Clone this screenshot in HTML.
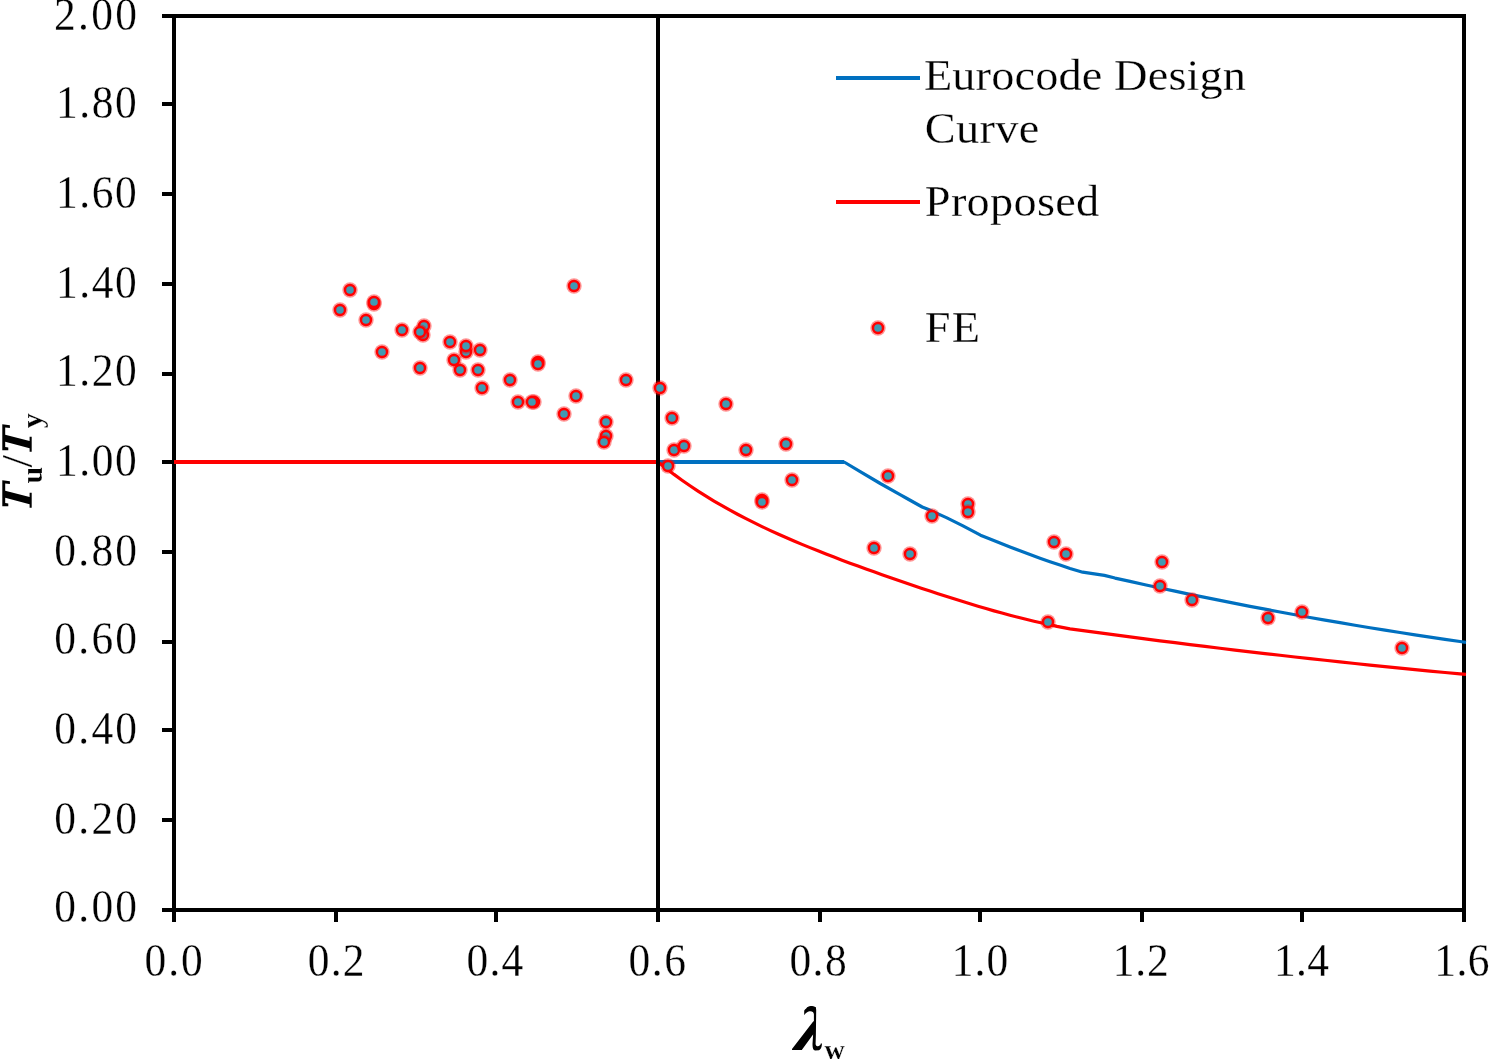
<!DOCTYPE html>
<html><head><meta charset="utf-8"><title>chart</title>
<style>
html,body{margin:0;padding:0;background:#fff;}
body{width:1490px;height:1060px;overflow:hidden;font-family:"Liberation Serif",serif;}
svg{display:block;}
text{font-family:"Liberation Serif",serif;fill:#000;}
</style></head><body>
<svg width="1490" height="1060" viewBox="0 0 1490 1060">
<rect width="1490" height="1060" fill="#fff"/>

<g fill="#000" shape-rendering="crispEdges">
<rect x="162" y="14" width="1304" height="4"/>
<rect x="172" y="14" width="4" height="908"/>
<rect x="1462" y="14" width="4" height="908"/>
<rect x="162" y="908" width="1304" height="4"/>
<rect x="162" y="14" width="12" height="4"/>
<rect x="162" y="102" width="12" height="4"/>
<rect x="162" y="192" width="12" height="4"/>
<rect x="162" y="282" width="12" height="4"/>
<rect x="162" y="372" width="12" height="4"/>
<rect x="162" y="460" width="12" height="4"/>
<rect x="162" y="550" width="12" height="4"/>
<rect x="162" y="640" width="12" height="4"/>
<rect x="162" y="728" width="12" height="4"/>
<rect x="162" y="818" width="12" height="4"/>
<rect x="162" y="908" width="12" height="4"/>
<rect x="172" y="908" width="4" height="14"/>
<rect x="334" y="908" width="4" height="14"/>
<rect x="494" y="908" width="4" height="14"/>
<rect x="656" y="908" width="4" height="14"/>
<rect x="818" y="908" width="4" height="14"/>
<rect x="978" y="908" width="4" height="14"/>
<rect x="1140" y="908" width="4" height="14"/>
<rect x="1300" y="908" width="4" height="14"/>
<rect x="1462" y="908" width="4" height="14"/>
</g>
<rect x="174" y="460" width="486" height="4" fill="#ff0000" shape-rendering="crispEdges"/>
<rect x="658" y="460" width="186" height="4" fill="#0070c0" shape-rendering="crispEdges"/>
<polyline points="658,462 666,468.33 674,474.41 682,480.21 690,485.76 698,491.06 706,496.15 714,501.02 722,505.69 730,510.18 738,514.5 746,518.67 754,522.69 762,526.57 770,530.34 778,533.99 786,537.53 794,540.98 802,544.35 810,547.64 818,550.85 826,554.01 834,557.1 842,560.14 850,563.13 858,566.08 866,568.99 874,571.86 882,574.7 890,577.51 898,580.28 906,583.02 914,585.74 922,588.42 930,591.07 938,593.69 946,596.28 954,598.82 962,601.33 970,603.79 978,606.2 986,608.56 994,610.85 1002,613.08 1010,615.24 1018,617.31 1026,619.3 1034,621.19 1042,622.98 1050,624.64 1057,626.4 1070,628.85 1085,630.91 1100,632.94 1115,634.95 1130,636.92 1145,638.88 1160,640.8 1175,642.7 1190,644.58 1205,646.43 1220,648.25 1235,650.05 1250,651.82 1265,653.56 1280,655.28 1295,656.97 1310,658.64 1325,660.28 1340,661.9 1355,663.48 1370,665.05 1385,666.58 1400,668.09 1415,669.58 1430,671.04 1445,672.47 1460,673.88 1466,674.43" fill="none" stroke="#ff0000" stroke-width="3.2" stroke-linejoin="round"/>
<polyline points="842,462 844.1,462 860.2,471.6 880.3,483.5 900.5,494.8 906.1,498 922.2,507 927.9,509.3 946.4,517.6 962.5,525.6 980.5,535.2 990,538.95 1000,543.01 1010,546.97 1020,550.81 1030,554.55 1040,558.18 1050,561.7 1060,565.11 1070,568.41 1082.7,572.2 1104.4,575.4 1115,578.07 1130,581.42 1145,584.73 1160,587.98 1175,591.17 1190,594.31 1205,597.4 1220,600.43 1235,603.4 1250,606.32 1265,609.19 1280,612 1295,614.75 1310,617.46 1325,620.1 1340,622.69 1355,625.23 1370,627.71 1385,630.14 1400,632.51 1415,634.83 1430,637.1 1445,639.31 1460,641.46 1466,642.31" fill="none" stroke="#0070c0" stroke-width="3.2" stroke-linejoin="round"/>
<rect x="656" y="16" width="4" height="894" fill="#000" shape-rendering="crispEdges"/>
<g>
<circle cx="350" cy="290" r="7.7" fill="#ff0000" fill-opacity="0.42" stroke="none"/><circle cx="350" cy="290" r="5.0" fill="#409ab2" stroke="#ff0000" stroke-width="2.4"/>
<circle cx="340" cy="310" r="7.7" fill="#ff0000" fill-opacity="0.42" stroke="none"/><circle cx="340" cy="310" r="5.0" fill="#409ab2" stroke="#ff0000" stroke-width="2.4"/>
<circle cx="374" cy="304" r="7.7" fill="#ff0000" fill-opacity="0.42" stroke="none"/><circle cx="374" cy="304" r="5.0" fill="#409ab2" stroke="#ff0000" stroke-width="2.4"/>
<circle cx="374" cy="302" r="7.7" fill="#ff0000" fill-opacity="0.42" stroke="none"/><circle cx="374" cy="302" r="5.0" fill="#409ab2" stroke="#ff0000" stroke-width="2.4"/>
<circle cx="366" cy="320" r="7.7" fill="#ff0000" fill-opacity="0.42" stroke="none"/><circle cx="366" cy="320" r="5.0" fill="#409ab2" stroke="#ff0000" stroke-width="2.4"/>
<circle cx="402" cy="330" r="7.7" fill="#ff0000" fill-opacity="0.42" stroke="none"/><circle cx="402" cy="330" r="5.0" fill="#409ab2" stroke="#ff0000" stroke-width="2.4"/>
<circle cx="423" cy="335" r="7.7" fill="#ff0000" fill-opacity="0.42" stroke="none"/><circle cx="423" cy="335" r="5.0" fill="#409ab2" stroke="#ff0000" stroke-width="2.4"/>
<circle cx="424" cy="326" r="7.7" fill="#ff0000" fill-opacity="0.42" stroke="none"/><circle cx="424" cy="326" r="5.0" fill="#409ab2" stroke="#ff0000" stroke-width="2.4"/>
<circle cx="420" cy="332" r="7.7" fill="#ff0000" fill-opacity="0.42" stroke="none"/><circle cx="420" cy="332" r="5.0" fill="#409ab2" stroke="#ff0000" stroke-width="2.4"/>
<circle cx="382" cy="352" r="7.7" fill="#ff0000" fill-opacity="0.42" stroke="none"/><circle cx="382" cy="352" r="5.0" fill="#409ab2" stroke="#ff0000" stroke-width="2.4"/>
<circle cx="420" cy="368" r="7.7" fill="#ff0000" fill-opacity="0.42" stroke="none"/><circle cx="420" cy="368" r="5.0" fill="#409ab2" stroke="#ff0000" stroke-width="2.4"/>
<circle cx="450" cy="342" r="7.7" fill="#ff0000" fill-opacity="0.42" stroke="none"/><circle cx="450" cy="342" r="5.0" fill="#409ab2" stroke="#ff0000" stroke-width="2.4"/>
<circle cx="466" cy="352" r="7.7" fill="#ff0000" fill-opacity="0.42" stroke="none"/><circle cx="466" cy="352" r="5.0" fill="#409ab2" stroke="#ff0000" stroke-width="2.4"/>
<circle cx="466" cy="346" r="7.7" fill="#ff0000" fill-opacity="0.42" stroke="none"/><circle cx="466" cy="346" r="5.0" fill="#409ab2" stroke="#ff0000" stroke-width="2.4"/>
<circle cx="480" cy="350" r="7.7" fill="#ff0000" fill-opacity="0.42" stroke="none"/><circle cx="480" cy="350" r="5.0" fill="#409ab2" stroke="#ff0000" stroke-width="2.4"/>
<circle cx="454" cy="360" r="7.7" fill="#ff0000" fill-opacity="0.42" stroke="none"/><circle cx="454" cy="360" r="5.0" fill="#409ab2" stroke="#ff0000" stroke-width="2.4"/>
<circle cx="460" cy="370" r="7.7" fill="#ff0000" fill-opacity="0.42" stroke="none"/><circle cx="460" cy="370" r="5.0" fill="#409ab2" stroke="#ff0000" stroke-width="2.4"/>
<circle cx="478" cy="370" r="7.7" fill="#ff0000" fill-opacity="0.42" stroke="none"/><circle cx="478" cy="370" r="5.0" fill="#409ab2" stroke="#ff0000" stroke-width="2.4"/>
<circle cx="510" cy="380" r="7.7" fill="#ff0000" fill-opacity="0.42" stroke="none"/><circle cx="510" cy="380" r="5.0" fill="#409ab2" stroke="#ff0000" stroke-width="2.4"/>
<circle cx="482" cy="388" r="7.7" fill="#ff0000" fill-opacity="0.42" stroke="none"/><circle cx="482" cy="388" r="5.0" fill="#409ab2" stroke="#ff0000" stroke-width="2.4"/>
<circle cx="518" cy="402" r="7.7" fill="#ff0000" fill-opacity="0.42" stroke="none"/><circle cx="518" cy="402" r="5.0" fill="#409ab2" stroke="#ff0000" stroke-width="2.4"/>
<circle cx="534" cy="402" r="7.7" fill="#ff0000" fill-opacity="0.42" stroke="none"/><circle cx="534" cy="402" r="5.0" fill="#409ab2" stroke="#ff0000" stroke-width="2.4"/>
<circle cx="532" cy="402" r="7.7" fill="#ff0000" fill-opacity="0.42" stroke="none"/><circle cx="532" cy="402" r="5.0" fill="#409ab2" stroke="#ff0000" stroke-width="2.4"/>
<circle cx="538" cy="362" r="7.7" fill="#ff0000" fill-opacity="0.42" stroke="none"/><circle cx="538" cy="362" r="5.0" fill="#409ab2" stroke="#ff0000" stroke-width="2.4"/>
<circle cx="538" cy="364" r="7.7" fill="#ff0000" fill-opacity="0.42" stroke="none"/><circle cx="538" cy="364" r="5.0" fill="#409ab2" stroke="#ff0000" stroke-width="2.4"/>
<circle cx="564" cy="414" r="7.7" fill="#ff0000" fill-opacity="0.42" stroke="none"/><circle cx="564" cy="414" r="5.0" fill="#409ab2" stroke="#ff0000" stroke-width="2.4"/>
<circle cx="574" cy="286" r="7.7" fill="#ff0000" fill-opacity="0.42" stroke="none"/><circle cx="574" cy="286" r="5.0" fill="#409ab2" stroke="#ff0000" stroke-width="2.4"/>
<circle cx="576" cy="396" r="7.7" fill="#ff0000" fill-opacity="0.42" stroke="none"/><circle cx="576" cy="396" r="5.0" fill="#409ab2" stroke="#ff0000" stroke-width="2.4"/>
<circle cx="606" cy="436" r="7.7" fill="#ff0000" fill-opacity="0.42" stroke="none"/><circle cx="606" cy="436" r="5.0" fill="#409ab2" stroke="#ff0000" stroke-width="2.4"/>
<circle cx="604" cy="442" r="7.7" fill="#ff0000" fill-opacity="0.42" stroke="none"/><circle cx="604" cy="442" r="5.0" fill="#409ab2" stroke="#ff0000" stroke-width="2.4"/>
<circle cx="606" cy="422" r="7.7" fill="#ff0000" fill-opacity="0.42" stroke="none"/><circle cx="606" cy="422" r="5.0" fill="#409ab2" stroke="#ff0000" stroke-width="2.4"/>
<circle cx="626" cy="380" r="7.7" fill="#ff0000" fill-opacity="0.42" stroke="none"/><circle cx="626" cy="380" r="5.0" fill="#409ab2" stroke="#ff0000" stroke-width="2.4"/>
<circle cx="660" cy="388" r="7.7" fill="#ff0000" fill-opacity="0.42" stroke="none"/><circle cx="660" cy="388" r="5.0" fill="#409ab2" stroke="#ff0000" stroke-width="2.4"/>
<circle cx="668" cy="466" r="7.7" fill="#ff0000" fill-opacity="0.42" stroke="none"/><circle cx="668" cy="466" r="5.0" fill="#409ab2" stroke="#ff0000" stroke-width="2.4"/>
<circle cx="672" cy="418" r="7.7" fill="#ff0000" fill-opacity="0.42" stroke="none"/><circle cx="672" cy="418" r="5.0" fill="#409ab2" stroke="#ff0000" stroke-width="2.4"/>
<circle cx="674" cy="450" r="7.7" fill="#ff0000" fill-opacity="0.42" stroke="none"/><circle cx="674" cy="450" r="5.0" fill="#409ab2" stroke="#ff0000" stroke-width="2.4"/>
<circle cx="684" cy="446" r="7.7" fill="#ff0000" fill-opacity="0.42" stroke="none"/><circle cx="684" cy="446" r="5.0" fill="#409ab2" stroke="#ff0000" stroke-width="2.4"/>
<circle cx="726" cy="404" r="7.7" fill="#ff0000" fill-opacity="0.42" stroke="none"/><circle cx="726" cy="404" r="5.0" fill="#409ab2" stroke="#ff0000" stroke-width="2.4"/>
<circle cx="746" cy="450" r="7.7" fill="#ff0000" fill-opacity="0.42" stroke="none"/><circle cx="746" cy="450" r="5.0" fill="#409ab2" stroke="#ff0000" stroke-width="2.4"/>
<circle cx="786" cy="444" r="7.7" fill="#ff0000" fill-opacity="0.42" stroke="none"/><circle cx="786" cy="444" r="5.0" fill="#409ab2" stroke="#ff0000" stroke-width="2.4"/>
<circle cx="762" cy="500" r="7.7" fill="#ff0000" fill-opacity="0.42" stroke="none"/><circle cx="762" cy="500" r="5.0" fill="#409ab2" stroke="#ff0000" stroke-width="2.4"/>
<circle cx="762" cy="502" r="7.7" fill="#ff0000" fill-opacity="0.42" stroke="none"/><circle cx="762" cy="502" r="5.0" fill="#409ab2" stroke="#ff0000" stroke-width="2.4"/>
<circle cx="792" cy="480" r="7.7" fill="#ff0000" fill-opacity="0.42" stroke="none"/><circle cx="792" cy="480" r="5.0" fill="#409ab2" stroke="#ff0000" stroke-width="2.4"/>
<circle cx="874" cy="548" r="7.7" fill="#ff0000" fill-opacity="0.42" stroke="none"/><circle cx="874" cy="548" r="5.0" fill="#409ab2" stroke="#ff0000" stroke-width="2.4"/>
<circle cx="910" cy="554" r="7.7" fill="#ff0000" fill-opacity="0.42" stroke="none"/><circle cx="910" cy="554" r="5.0" fill="#409ab2" stroke="#ff0000" stroke-width="2.4"/>
<circle cx="888" cy="476" r="7.7" fill="#ff0000" fill-opacity="0.42" stroke="none"/><circle cx="888" cy="476" r="5.0" fill="#409ab2" stroke="#ff0000" stroke-width="2.4"/>
<circle cx="932" cy="516" r="7.7" fill="#ff0000" fill-opacity="0.42" stroke="none"/><circle cx="932" cy="516" r="5.0" fill="#409ab2" stroke="#ff0000" stroke-width="2.4"/>
<circle cx="968" cy="504" r="7.7" fill="#ff0000" fill-opacity="0.42" stroke="none"/><circle cx="968" cy="504" r="5.0" fill="#409ab2" stroke="#ff0000" stroke-width="2.4"/>
<circle cx="968" cy="512" r="7.7" fill="#ff0000" fill-opacity="0.42" stroke="none"/><circle cx="968" cy="512" r="5.0" fill="#409ab2" stroke="#ff0000" stroke-width="2.4"/>
<circle cx="1048" cy="622" r="7.7" fill="#ff0000" fill-opacity="0.42" stroke="none"/><circle cx="1048" cy="622" r="5.0" fill="#409ab2" stroke="#ff0000" stroke-width="2.4"/>
<circle cx="1054" cy="542" r="7.7" fill="#ff0000" fill-opacity="0.42" stroke="none"/><circle cx="1054" cy="542" r="5.0" fill="#409ab2" stroke="#ff0000" stroke-width="2.4"/>
<circle cx="1066" cy="554" r="7.7" fill="#ff0000" fill-opacity="0.42" stroke="none"/><circle cx="1066" cy="554" r="5.0" fill="#409ab2" stroke="#ff0000" stroke-width="2.4"/>
<circle cx="1162" cy="562" r="7.7" fill="#ff0000" fill-opacity="0.42" stroke="none"/><circle cx="1162" cy="562" r="5.0" fill="#409ab2" stroke="#ff0000" stroke-width="2.4"/>
<circle cx="1160" cy="586" r="7.7" fill="#ff0000" fill-opacity="0.42" stroke="none"/><circle cx="1160" cy="586" r="5.0" fill="#409ab2" stroke="#ff0000" stroke-width="2.4"/>
<circle cx="1192" cy="600" r="7.7" fill="#ff0000" fill-opacity="0.42" stroke="none"/><circle cx="1192" cy="600" r="5.0" fill="#409ab2" stroke="#ff0000" stroke-width="2.4"/>
<circle cx="1268" cy="618" r="7.7" fill="#ff0000" fill-opacity="0.42" stroke="none"/><circle cx="1268" cy="618" r="5.0" fill="#409ab2" stroke="#ff0000" stroke-width="2.4"/>
<circle cx="1302" cy="612" r="7.7" fill="#ff0000" fill-opacity="0.42" stroke="none"/><circle cx="1302" cy="612" r="5.0" fill="#409ab2" stroke="#ff0000" stroke-width="2.4"/>
<circle cx="1402" cy="648" r="7.7" fill="#ff0000" fill-opacity="0.42" stroke="none"/><circle cx="1402" cy="648" r="5.0" fill="#409ab2" stroke="#ff0000" stroke-width="2.4"/>
<circle cx="878" cy="328" r="7.7" fill="#ff0000" fill-opacity="0.42" stroke="none"/><circle cx="878" cy="328" r="5.0" fill="#409ab2" stroke="#ff0000" stroke-width="2.4"/>
</g>
<rect x="836" y="76" width="84" height="4" fill="#0070c0"/>
<rect x="836" y="200" width="84" height="4" fill="#ff0000"/>
<g opacity="0.999" stroke="#ffffff" stroke-width="0.25">
<text transform="translate(923.88,89.5) scale(1.03,1)" font-size="45" letter-spacing="0.124">Eurocode Design</text>
<text transform="translate(924.73,143.4) scale(1.03,1)" font-size="45" letter-spacing="0.359">Curve</text>
<text transform="translate(924.85,216.3) scale(1.03,1)" font-size="45" letter-spacing="0.275">Proposed</text>
<text transform="translate(924.85,342.1) scale(1.03,1)" font-size="45" letter-spacing="1.117">FE</text>
<text transform="translate(53.98,30) scale(0.945,1)" font-size="46" letter-spacing="2.478">2.00</text>
<text transform="translate(56.02,118) scale(0.945,1)" font-size="46" letter-spacing="1.654">1.80</text>
<text transform="translate(56.02,208) scale(0.945,1)" font-size="46" letter-spacing="1.654">1.60</text>
<text transform="translate(56.02,298) scale(0.945,1)" font-size="46" letter-spacing="1.654">1.40</text>
<text transform="translate(56.02,386) scale(0.945,1)" font-size="46" letter-spacing="1.654">1.20</text>
<text transform="translate(56.02,476) scale(0.945,1)" font-size="46" letter-spacing="1.654">1.00</text>
<text transform="translate(54.36,566) scale(0.945,1)" font-size="46" letter-spacing="2.345">0.80</text>
<text transform="translate(54.36,654) scale(0.945,1)" font-size="46" letter-spacing="2.345">0.60</text>
<text transform="translate(54.36,744) scale(0.945,1)" font-size="46" letter-spacing="2.345">0.40</text>
<text transform="translate(54.36,834) scale(0.945,1)" font-size="46" letter-spacing="2.345">0.20</text>
<text transform="translate(54.36,922) scale(0.945,1)" font-size="46" letter-spacing="2.345">0.00</text>
<text transform="translate(144.44,976) scale(0.945,1)" font-size="46" letter-spacing="2.119">0.0</text>
<text transform="translate(307.78,976) scale(0.945,1)" font-size="46" letter-spacing="1.278">0.2</text>
<text transform="translate(466.56,976) scale(0.945,1)" font-size="46" letter-spacing="1.184">0.4</text>
<text transform="translate(628.38,976) scale(0.945,1)" font-size="46" letter-spacing="1.723">0.6</text>
<text transform="translate(789.44,976) scale(0.945,1)" font-size="46" letter-spacing="1.505">0.8</text>
<text transform="translate(951.82,976) scale(0.945,1)" font-size="46" letter-spacing="1.052">1.0</text>
<text transform="translate(1112.66,976) scale(0.945,1)" font-size="46" letter-spacing="0.865">1.2</text>
<text transform="translate(1273.94,976) scale(0.945,1)" font-size="46" letter-spacing="0.433">1.4</text>
<text transform="translate(1434.24,976) scale(0.945,1)" font-size="46" letter-spacing="0.433">1.6</text>
<path d="M815.9 1007.3 C814.5 1006.3 812.5 1006 810.7 1006 C808.8 1006 807.3 1007 806.4 1008.2 C805.3 1009.2 804.5 1010 804.2 1010.6 L804.2 1015.2 C804.8 1014 805.6 1013.2 806.4 1012.8 C807.5 1011.8 808.5 1011.3 809.4 1011.2 C811 1011 812.3 1011.4 813.1 1012.2 C813.7 1013 813.9 1013.8 813.9 1014.6 L813.9 1021 L812.8 1022 L792 1049 L792 1049.9 L801.8 1049.9 L813.6 1033.7 L813.1 1034.4 L812.5 1044 C812.5 1045.5 812.6 1046.8 812.8 1047.7 C813.2 1049.5 814 1050.5 815.2 1050.5 L819 1050.3 C820.5 1049.5 821.4 1047.5 821.7 1045.9 L822 1043.4 L820.8 1043.4 C820.6 1044.3 820.3 1044.9 819.9 1045.3 C819.2 1046 818.3 1046.3 817.4 1046.2 C816.3 1046 815.7 1045.2 815.6 1044 L815.9 1034.2 L816.2 1010.3 Z" fill="#000" stroke="none"/>
<text x="824.5" y="1059.3" font-size="28" font-weight="bold">w</text>
<path d="M2.3 480.2 L9.9 481.3 L9.9 483.9 L5.2 483.4 L5.2 490.7 L29.6 496.9 L29.6 492.7 L31.7 492.7 L31.7 507.7 L29.6 507.7 L29.6 504.3 L5.2 497.7 L5.2 502.9 L8.3 503.6 L8.3 506.2 L2.3 506.2 Z" fill="#000" stroke="none"/>
<path d="M2.3 480.2 L9.9 481.3 L9.9 483.9 L5.2 483.4 L5.2 490.7 L29.6 496.9 L29.6 492.7 L31.7 492.7 L31.7 507.7 L29.6 507.7 L29.6 504.3 L5.2 497.7 L5.2 502.9 L8.3 503.6 L8.3 506.2 L2.3 506.2 Z" fill="#000" stroke="none" transform="translate(0,-56)"/>
<g transform="translate(31.7,508) rotate(-90)" font-weight="bold">
<text transform="translate(24.6,10.6)" font-size="30">u</text>
<text transform="translate(40.5,0)" font-size="45" font-weight="normal">/</text>
<text transform="translate(79.7,10.6)" font-size="30">y</text>
</g>
</g>
</svg></body></html>
